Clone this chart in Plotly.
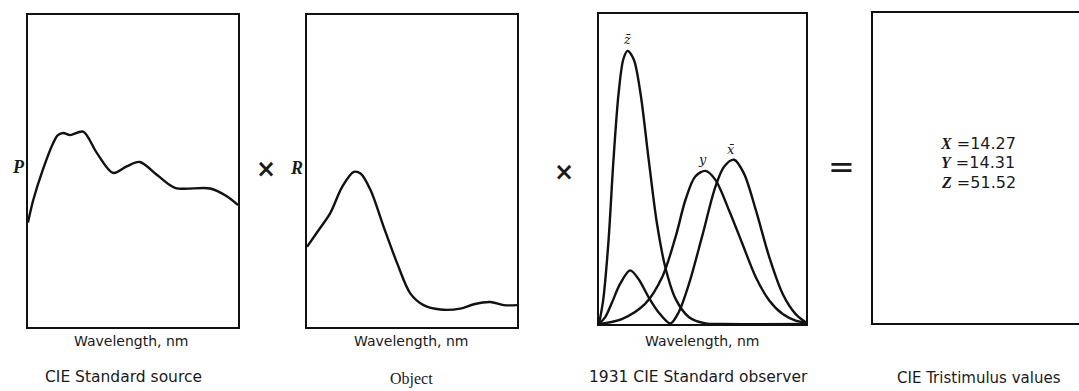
import plotly.graph_objects as go

W, H = 1079, 391

# ---- data (normalised intensity, wavelength in nm) ----
src_wl = [380, 390, 408, 428, 437, 447, 460, 485, 511, 542, 568, 593, 626, 660, 727, 758, 780]
src_P = [0.335, 0.407, 0.503, 0.59, 0.615, 0.622, 0.615, 0.626, 0.558, 0.494, 0.515, 0.529, 0.487, 0.446, 0.444, 0.42, 0.391]

obj_wl = [380, 402, 424, 447, 469, 482, 501, 526, 552, 577, 602, 634, 672, 698, 729, 755, 780]
obj_R = [0.257, 0.31, 0.364, 0.449, 0.497, 0.492, 0.439, 0.321, 0.203, 0.107, 0.070, 0.056, 0.059, 0.073, 0.080, 0.070, 0.070]

zbar_wl = [380, 388, 398, 408, 418, 427, 435, 447, 460, 476, 492, 508, 528, 554, 586, 620, 780]
zbar = [0.0, 0.076, 0.259, 0.53, 0.746, 0.854, 0.881, 0.854, 0.746, 0.53, 0.324, 0.184, 0.081, 0.022, 0.002, 0.0, 0.0]

xbar_wl = [380, 392, 404, 421, 440, 456, 476, 495, 518, 534, 554, 579, 605, 622, 641, 660, 683, 709, 735, 760, 780]
xbar = [0.0, 0.022, 0.065, 0.13, 0.173, 0.146, 0.086, 0.038, 0.002, 0.038, 0.13, 0.281, 0.443, 0.508, 0.53, 0.486, 0.368, 0.216, 0.097, 0.032, 0.005]

ybar_wl = [380, 424, 469, 502, 528, 547, 566, 586, 605, 631, 657, 683, 709, 735, 760, 780]
ybar = [0.0, 0.016, 0.065, 0.151, 0.281, 0.4, 0.476, 0.494, 0.465, 0.368, 0.259, 0.151, 0.076, 0.032, 0.011, 0.005]

tristimulus_names = ["X", "Y", "Z"]
tristimulus_values = ["14.27", "14.31", "51.52"]

x_labels = ["Wavelength, nm", "Wavelength, nm", "Wavelength, nm"]
captions = ["CIE Standard source", "Object", "1931 CIE Standard observer", "CIE Tristimulus values"]

# ---- layout helpers ----
def px(x):
    return x / W

def py(y):
    return 1 - y / H

boxes = [(28, 238, 15, 327), (307, 517, 15, 327), (599, 806, 14, 324), (873, 1079, 13, 323)]

INK = "#1a1a1a"

fig = go.Figure()

def add_curve(x, y, n):
    fig.add_trace(go.Scatter(
        x=x, y=y, mode="lines", line=dict(color="#111111", width=2.4, shape="spline", smoothing=0.9),
        xaxis="x" if n == 1 else f"x{n}", yaxis="y" if n == 1 else f"y{n}",
        showlegend=False, hoverinfo="skip"))

add_curve(src_wl, src_P, 1)
add_curve(obj_wl, obj_R, 2)
add_curve(zbar_wl, zbar, 3)
add_curve(xbar_wl, xbar, 3)
add_curve(ybar_wl, ybar, 3)
# empty panel 4 (keeps the axes)
fig.add_trace(go.Scatter(x=[], y=[], xaxis="x4", yaxis="y4", showlegend=False))

layout = dict(width=W, height=H, margin=dict(l=0, r=0, t=0, b=0),
              paper_bgcolor="white", plot_bgcolor="rgba(0,0,0,0)", showlegend=False)

for i, (x0, x1, y0, y1) in enumerate(boxes, start=1):
    k = "" if i == 1 else str(i)
    last = i == 4
    layout["xaxis" + k] = dict(domain=[px(x0), min(px(x1), 1.0)], range=[380, 780],
                               showgrid=False, zeroline=False, showticklabels=False, ticks="",
                               showline=True, linecolor="#111111", linewidth=2.4, mirror=True,
                               anchor="y" + k, fixedrange=True)
    layout["yaxis" + k] = dict(domain=[py(y1), py(y0)], range=[0, 1],
                               showgrid=False, zeroline=False, showticklabels=False, ticks="",
                               showline=True, linecolor="#111111", linewidth=2.4,
                               mirror=(not last), anchor="x" + k, fixedrange=True)
fig.update_layout(**layout)

ann = []

def text(x, y, s, size=14, family="DejaVu Sans", **kw):
    ann.append(dict(x=px(x), y=py(y), xref="paper", yref="paper", text=s, showarrow=False,
                    xanchor="center", yanchor="middle",
                    font=dict(size=size, family=family, color=INK), **kw))

# axis labels
for cx, s in zip([131, 411, 702], x_labels):
    text(cx, 341, s, size=14)

# captions
text(123, 377, captions[0], size=15.5)
text(411, 379, captions[1], size=16, family="Liberation Serif")
text(698, 377, captions[2], size=15.5)
text(979, 378, captions[3], size=15)

# symbols between panels
text(18, 167, "<b><i>P</i></b>", size=18, family="Liberation Serif")
text(266, 169, "<b>×</b>", size=24, family="DejaVu Sans")
text(296, 168, "<b><i>R</i></b>", size=18, family="Liberation Serif")
text(564, 172, "<b>×</b>", size=24, family="DejaVu Sans")
text(841, 167, "=", size=32, family="DejaVu Sans")

# curve labels
text(627, 40, "<i>z̄</i>", size=13, family="DejaVu Serif")
text(702, 159, "<i>y</i>", size=13, family="DejaVu Serif")
text(731, 150, "<i>x̄</i>", size=13, family="DejaVu Serif")

# tristimulus values
for j, (nm, v) in enumerate(zip(tristimulus_names, tristimulus_values)):
    s = f"<span style='font-family:Liberation Serif'><i><b>{nm}</b></i></span> ={v}"
    text(978, 143 + 20 * j, s, size=16, family="DejaVu Sans")

fig.update_layout(annotations=ann)
fig.write_html("out.html")
